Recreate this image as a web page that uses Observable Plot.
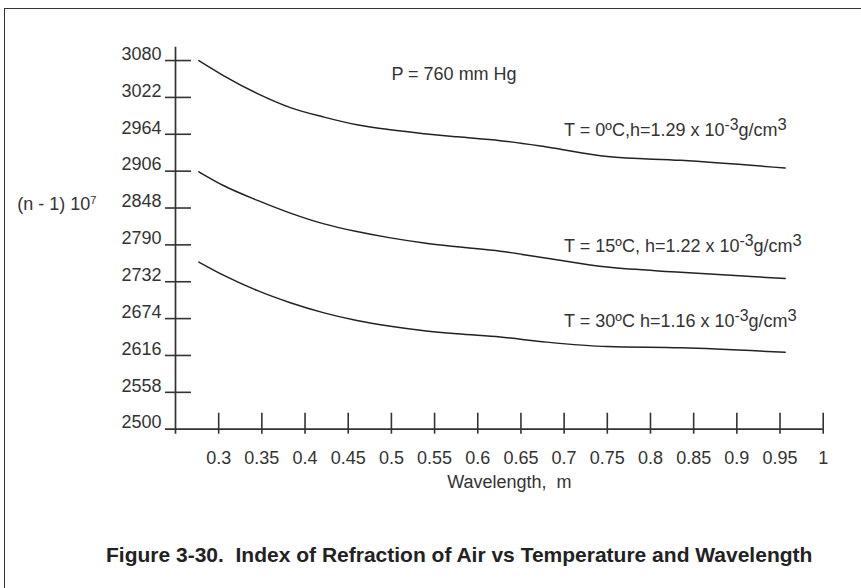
<!DOCTYPE html>
<html>
<head>
<meta charset="utf-8">
<script src="https://cdn.jsdelivr.net/npm/d3@7"></script>
<script src="https://cdn.jsdelivr.net/npm/@observablehq/plot@0.6"></script>
<style>
html, body { margin: 0; padding: 0; background: #fff; }
#wrap { position: relative; width: 861px; height: 588px; overflow: hidden; background: #fff;
  font-family: "Liberation Sans", Arial, Helvetica, sans-serif; color: #333; }
#frame { position: absolute; left: 4px; top: 8px; width: 900px; height: 620px;
  border-left: 1.5px solid #333; border-top: 1.5px solid #333; pointer-events: none; }
#chart { position: absolute; left: 0; top: 0; }
#chart svg text { white-space: pre; }
#title { position: absolute; left: 106px; top: 543px; font-weight: bold; font-size: 21px;
  line-height: 24px; color: #222; white-space: pre; }
</style>
</head>
<body>
<div id="wrap">
  <div id="chart"></div>
  <div id="frame"></div>
  <div id="title"></div>
</div>
<script>
// ---- data ----
const wavelength = [0.277, 0.306, 0.345, 0.383, 0.422, 0.460, 0.499, 0.538, 0.576, 0.626, 0.680, 0.750, 0.835, 0.956];
const n0C  = [3080, 3056, 3028, 3006, 2991, 2979, 2971, 2965, 2960, 2954, 2944, 2929, 2923, 2911];
const n15C = [2905, 2883, 2860, 2840, 2823, 2811, 2801, 2793, 2787, 2780, 2769, 2755, 2747, 2737];
const n30C = [2763, 2742, 2718, 2699, 2683, 2671, 2662, 2655, 2650, 2645, 2637, 2630, 2628, 2621];
const seriesNames = ["T = 0ºC", "T = 15ºC", "T = 30ºC"];

const xTicks = [0.3, 0.35, 0.4, 0.45, 0.5, 0.55, 0.6, 0.65, 0.7, 0.75, 0.8, 0.85, 0.9, 0.95, 1];
const yTicks = [2500, 2558, 2616, 2674, 2732, 2790, 2848, 2906, 2964, 3022, 3080];
const xDomain = [0.25, 1.0];
const yDomain = [2500, 3101];

// ^NN{..} = superscript at NN% size
const curveLabels = [
  "T = 0ºC,h=1.29 x 10^88{-3}g/cm^92{3}",
  "T = 15ºC, h=1.22 x 10^88{-3}g/cm^92{3}",
  "T = 30ºC h=1.16 x 10^88{-3}g/cm^92{3}"
];
const curveLabelX = [0.7, 0.7, 0.7];
const curveLabelY = [2970, 2788, 2670];
const pressureLabel = "P = 760 mm Hg";
const pressureX = 0.5, pressureY = 3058;
const xLabel = "Wavelength,  m";
const yLabel = "(n - 1) 10^62{7}";
const titleText = "Figure 3-30.  Index of Refraction of Air vs Temperature and Wavelength";

// ---- build table ----
const allSeries = [n0C, n15C, n30C];
const rows = allSeries.flatMap((vals, k) => wavelength.map((w, i) => ({w, n: vals[i], series: seriesNames[k]})));
const labelRows = curveLabels.map((t, i) => ({t, x: curveLabelX[i], y: curveLabelY[i]}));

const ink = "#333";
const chart = Plot.plot({
  width: 861, height: 520,
  marginLeft: 175, marginRight: 38.3, marginTop: 46.7, marginBottom: 91.3,
  x: {domain: xDomain},
  y: {domain: yDomain},
  style: {fontFamily: '"Liberation Sans", Arial, Helvetica, sans-serif', fontSize: "18px", color: ink, background: "white", overflow: "visible"},
  marks: [
    // axis lines
    Plot.ruleX([xDomain[0]], {y1: yDomain[1], y2: yDomain[0], insetBottom: -5, stroke: ink, strokeWidth: 1.7}),
    Plot.ruleY([yDomain[0]], {x1: xDomain[0], x2: xDomain[1], insetLeft: -10, stroke: ink, strokeWidth: 1.7}),
    // crossing ticks
    Plot.ruleY(yTicks.slice(1), {x1: xDomain[0], x2: xDomain[0], insetLeft: -10, insetRight: -16, stroke: ink, strokeWidth: 1.6}),
    Plot.ruleX(xTicks, {y1: yDomain[0], y2: yDomain[0], insetTop: -16, insetBottom: -5, stroke: ink, strokeWidth: 1.6}),
    Plot.axisY({ticks: yTicks, tickSize: 0, tickPadding: 14, dy: -6.5, tickFormat: d => String(d), label: null, fill: ink}),
    Plot.axisX({ticks: xTicks, tickSize: 0, tickPadding: 22, tickFormat: d => String(d), label: null, fill: ink}),
    // curves
    Plot.line(rows, {x: "w", y: "n", z: "series", stroke: "#222", strokeWidth: 1.5, curve: "monotone-x"}),
    // annotations
    Plot.text(labelRows, {x: "x", y: "y", text: "t", textAnchor: "start", fill: ink}),
    Plot.text([pressureLabel], {x: pressureX, y: pressureY, text: d => d, textAnchor: "start", fill: ink}),
    Plot.text([xLabel], {frameAnchor: "bottom", text: d => d, dx: 10, dy: 58.5, fill: ink}),
    Plot.text([yLabel], {frameAnchor: "left", text: d => d, textAnchor: "start", dx: -158.3, dy: -33.5, fill: ink})
  ]
});

// superscripts as tspans
d3.select(chart).selectAll("text").each(function() {
  const s = this.textContent;
  if (!/\^\d+\{/.test(s)) return;
  const parts = s.split(/(\^\d+\{[^}]*\})/).filter(p => p.length);
  this.textContent = "";
  let raised = false;
  for (const p of parts) {
    const ts = d3.select(this).append("tspan");
    const m = p.match(/^\^(\d+)\{([^}]*)\}$/);
    if (m) {
      ts.text(m[2]).attr("font-size", (+m[1] / 100) + "em");
      if (!raised) ts.attr("dy", -6);
      raised = true;
    } else {
      ts.text(p);
      if (raised) ts.attr("dy", 6);
      raised = false;
    }
  }
});

document.getElementById("chart").appendChild(chart);
document.getElementById("title").textContent = titleText;
</script>
</body>
</html>
